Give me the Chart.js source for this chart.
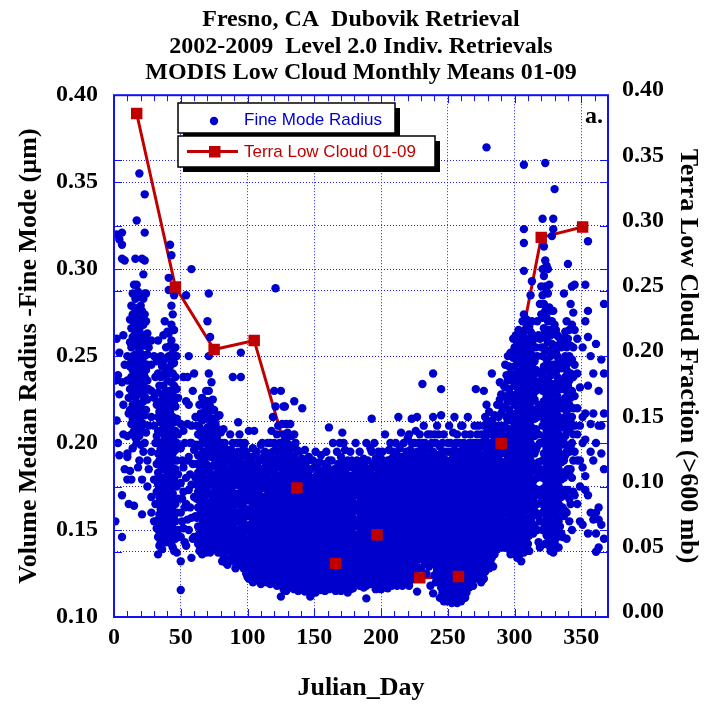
<!DOCTYPE html>
<html><head><meta charset="utf-8">
<script src="https://cdn.jsdelivr.net/npm/chart.js@4.4.1/dist/chart.umd.min.js"></script>
<style>html,body{margin:0;padding:0;background:#fff}</style>
</head><body>
<canvas id="c" width="705" height="708"></canvas>
<script>
// ---- Data ----
// Fine mode radius retrievals: [julianDay, [radii (um) retrieved on that day...]]
const fineJanMar = [
[1,[.236,.155]],[2,[.32,.26,.213]],[3,[.239,.2]],[4,[.317,.252,.228,.193]],
[6,[.321,.314,.306,.235,.17,.146]],[7,[.262,.222,.205]],[8,[.305,.245,.185]],
[10,[.25,.236,.204,.194,.192,.179]],[11,[.226,.217,.165]],
[12,[.271,.258,.244,.231,.219,.184]],
[13,[.279,.266,.255,.247,.238,.227,.211,.205,.179]],
[14,[.286,.274,.261,.25,.242,.233,.222,.214,.197]],
[15,[.291,.278,.269,.257,.245,.236,.229,.218,.207,.164]],
[16,[.306,.283,.271,.263,.251,.24,.226,.215,.203]],
[17,[.328,.291,.276,.267,.256,.248,.235,.223,.21,.2]],
[18,[.287,.272,.259,.244,.232,.219,.208,.186]],
[19,[.355,.284,.265,.254,.243,.237,.228,.214,.204,.19]],
[20,[.279,.27,.258,.248,.236,.222,.212,.199]],
[21,[.306,.276,.262,.251,.24,.229,.217,.207,.179,.159]],
[22,[.297,.283,.268,.256,.246,.233,.224,.211,.195]],
[23,[.343,.321,.305,.286,.274,.26,.25,.238,.227,.216,.2]],
[24,[.286,.27,.257,.242,.231,.219,.206]],
[25,[.263,.251,.245,.236,.225,.19,.175]],
[26,[.255,.231,.21,.185]],
[28,[.259,.245,.23,.215,.195,.169,.16]],
[30,[.25,.226,.21,.179,.155]],
[31,[.238,.2,.165]],
[32,[.247,.222,.204,.188,.172,.151]],
[33,[.259,.24,.229,.215,.207,.194,.183,.176,.165,.156,.146,.136]],
[34,[.233,.218,.2,.19,.181,.169,.159,.149,.141]],
[35,[.25,.238,.224,.212,.197,.187,.179,.17,.162,.152,.143]],
[36,[.244,.228,.216,.206,.193,.185,.174,.164,.155,.146,.139]],
[37,[.262,.247,.233,.22,.21,.201,.19,.18,.171,.161,.15]],
[38,[.27,.24,.226,.213,.204,.195,.185,.176,.166,.157,.147]],
[39,[.255,.243,.23,.218,.207,.197,.188,.178,.168,.159,.151,.143]],
[40,[.264,.249,.236,.222,.21,.2,.191,.183,.173,.163,.154,.145]],
[41,[.295,.288,.263,.25,.24,.226,.215,.203,.193,.181,.17,.16,.148]],
[42,[.314,.256,.244,.23,.218,.208,.197,.188,.177,.167,.157,.146]],
[43,[.308,.279,.268,.259,.247,.235,.222,.211,.199,.186,.174,.163,.153,.142]],
[44,[.274,.252,.24,.228,.215,.205,.194,.183,.171,.161,.151,.14]],
[45,[.285,.265,.246,.233,.224,.212,.201,.19,.179,.168,.158,.148,.138]],
[46,[.255,.238,.221,.207,.196,.185,.176,.165,.155,.145]],
[47,[.25,.231,.214,.2,.19,.175,.16,.137]],
[48,[.226,.205,.182,.168,.15]],
[50,[.211,.197,.177,.16,.146,.132,.1155]],
[51,[.19,.168,.155]],
[52,[.238,.207,.186,.172,.151]],
[53,[.2,.163,.143]],
[54,[.285,.224,.18,.165,.141]],
[55,[.238,.211,.19,.156]],
[56,[.25,.222,.192,.173,.15]],
[57,[.2,.182,.163]],
[58,[.3,.21,.2,.176,.157,.134]],
[59,[.23,.188,.145]],
[60,[.24,.196,.169,.146]],
[61,[.215,.18,.158]],
[62,[.21,.199,.188,.176,.168,.157,.146]],
[63,[.215,.205,.193,.183,.172,.163,.152,.142]],
[64,[.222,.209,.198,.187,.179,.167,.158,.148,.138]],
[65,[.217,.204,.192,.18,.171,.161,.151,.14]],
[66,[.226,.213,.2,.189,.176,.165,.156,.145,.136]],
[67,[.222,.207,.195,.184,.174,.169,.159,.15,.141]],
[68,[.218,.203,.191,.181,.17,.162,.153,.144]],
[69,[.23,.214,.2,.188,.178,.166,.157,.148,.137]],
[70,[.27,.224,.209,.196,.185,.175,.163,.154,.143]],
[71,[.286,.25,.24,.23,.217,.205,.193,.183,.171,.16,.149,.14]],
[72,[.261,.221,.21,.198,.186,.177,.166,.155,.146,.137]],
[73,[.235,.214,.202,.192,.181,.17,.16,.151,.141]],
[74,[.225,.209,.197,.187,.176,.166,.157,.147,.139]],
[75,[.219,.205,.193,.182,.172,.163,.152,.143]],
[76,[.211,.2,.189,.178,.168,.159,.149,.14]],
[77,[.215,.203,.19,.18,.171,.161,.15,.142]],
[78,[.208,.196,.184,.175,.164,.154,.145,.137]],
[79,[.216,.2,.188,.177,.167,.157,.147,.139]],
[80,[.206,.193,.182,.172,.161,.152,.142]],
[81,[.2,.19,.179,.169,.159,.149,.14,.132]],
[82,[.208,.196,.185,.174,.163,.154,.144,.135]],
[83,[.2,.187,.176,.166,.156,.146,.137]],
[84,[.193,.181,.171,.161,.151,.141,.131]],
[85,[.196,.184,.173,.163,.152,.142,.13]],
[86,[.19,.178,.168,.158,.148,.139,.133]],
[87,[.205,.19,.18,.169,.159,.149,.138]],
[88,[.196,.185,.174,.164,.154,.144,.134]],
[89,[.238,.2,.188,.177,.167,.157,.146,.135]],
[90,[.193,.182,.171,.161,.151,.141,.132]],
[91,[.19,.178,.168,.158,.148,.138,.128]]
];
const fineAprJun = [
[92,[.2,.186,.176,.165,.155,.145,.135]],
[93,[.212,.195,.183,.171,.16,.15,.14,.13]],
[94,[.205,.19,.179,.169,.157,.147,.137]],
[95,[.252,.238,.2,.186,.175,.164,.154,.143,.133]],
[96,[.193,.181,.171,.161,.151,.141,.131]],
[97,[.198,.185,.174,.166,.156,.146,.136,.128]],
[98,[.2,.188,.178,.168,.158,.149,.139,.13]],
[99,[.195,.183,.172,.162,.152,.143,.134,.125]],
[100,[.19,.18,.17,.16,.15,.141,.132,.123]],
[101,[.207,.186,.176,.167,.158,.149,.14,.131,.122]],
[102,[.192,.181,.171,.162,.153,.145,.136,.127]],
[103,[.19,.178,.169,.159,.15,.141,.133,.124]],
[104,[.197,.184,.174,.164,.155,.146,.137,.128,.12]],
[105,[.207,.188,.179,.17,.161,.152,.143,.134,.125]],
[106,[.193,.182,.172,.163,.153,.144,.135,.126]],
[107,[.195,.18,.167,.158,.148,.139,.13,.121]],
[108,[.186,.176,.165,.156,.147,.138,.129]],
[109,[.19,.179,.17,.16,.151,.142,.133,.124]],
[110,[.199,.185,.174,.164,.155,.146,.137,.127,.119]],
[111,[.2,.182,.168,.159,.15,.141,.132,.123]],
[112,[.192,.178,.169,.157,.148,.139,.13,.121]],
[113,[.195,.186,.174,.163,.154,.145,.136,.126]],
[114,[.188,.176,.166,.156,.147,.138,.129,.12]],
[115,[.2,.19,.18,.17,.16,.151,.142,.133,.124]],
[116,[.194,.183,.172,.162,.152,.143,.134,.125]],
[117,[.2,.186,.175,.165,.156,.147,.138,.128,.119]],
[118,[.207,.191,.179,.169,.159,.149,.14,.131,.122]],
[119,[.215,.195,.184,.173,.163,.153,.144,.135,.126]],
[120,[.23,.2,.188,.177,.167,.157,.148,.139,.129,.12]],
[121,[.289,.221,.196,.182,.171,.161,.152,.143,.134,.124]],
[122,[.205,.191,.179,.168,.158,.148,.138,.128,.118]],
[123,[.21,.195,.186,.175,.165,.155,.146,.136,.126]],
[124,[.2,.189,.178,.169,.159,.15,.141,.131,.121]],
[125,[.23,.2,.19,.181,.171,.162,.153,.144,.135,.125,.1117]],
[126,[.211,.196,.185,.175,.166,.157,.147,.138,.129,.12]],
[127,[.221,.205,.193,.183,.173,.164,.154,.145,.136,.127,.116]],
[128,[.221,.199,.188,.178,.168,.159,.15,.141,.132,.122]],
[129,[.211,.202,.191,.18,.17,.161,.152,.143,.133,.124,.115]],
[130,[.206,.195,.184,.174,.165,.155,.146,.137,.128,.118]],
[131,[.199,.187,.177,.168,.158,.149,.14,.131,.121]],
[132,[.211,.193,.182,.172,.163,.154,.144,.135,.126,.117]],
[133,[.204,.19,.179,.169,.16,.151,.142,.133,.123]],
[134,[.197,.185,.175,.165,.156,.147,.138,.128,.119]],
[135,[.224,.205,.192,.181,.171,.162,.152,.143,.134,.125,.116]],
[136,[.2,.188,.178,.168,.159,.149,.14,.131,.121]],
[137,[.196,.183,.173,.164,.154,.145,.136,.127,.118]],
[138,[.19,.18,.17,.161,.152,.143,.133,.124,.115]],
[139,[.195,.186,.176,.166,.157,.147,.138,.129,.12]],
[140,[.188,.178,.169,.159,.15,.141,.131,.122,.116]],
[141,[.22,.191,.181,.172,.162,.153,.144,.134,.125]],
[142,[.184,.175,.166,.156,.147,.138,.129,.12]],
[143,[.196,.186,.177,.168,.159,.15,.141,.132,.123,.1146]],
[144,[.189,.18,.17,.161,.152,.143,.134,.125,.117]],
[145,[.183,.173,.164,.155,.146,.136,.127,.118]],
[146,[.192,.181,.171,.162,.153,.144,.135,.126,.117]],
[147,[.185,.176,.166,.157,.148,.139,.13,.121,.1117]],
[148,[.179,.169,.16,.151,.142,.133,.124,.115]],
[149,[.19,.18,.171,.162,.152,.143,.134,.125,.116]],
[150,[.186,.175,.165,.156,.147,.137,.128,.119]],
[151,[.195,.178,.168,.159,.15,.141,.132,.122,.114]],
[152,[.182,.173,.163,.154,.145,.136,.127,.118]],
[153,[.185,.176,.167,.158,.148,.139,.13,.121]],
[154,[.189,.179,.17,.16,.151,.142,.133,.124,.116]],
[155,[.193,.174,.165,.156,.146,.137,.128,.119,.1155]],
[156,[.18,.171,.162,.152,.143,.134,.125,.117]],
[157,[.184,.176,.166,.157,.148,.139,.13,.121]],
[158,[.188,.178,.169,.16,.15,.141,.132,.123,.115]],
[159,[.195,.182,.173,.164,.154,.145,.136,.127,.118]],
[160,[.186,.176,.167,.157,.148,.139,.13,.121]],
[161,[.209,.19,.179,.17,.161,.152,.143,.134,.125,.116]],
[162,[.184,.174,.165,.155,.146,.137,.128,.119]],
[163,[.19,.178,.168,.159,.149,.14,.131,.122]],
[164,[.2,.182,.172,.163,.153,.144,.135,.126,.117]],
[165,[.185,.175,.166,.157,.147,.138,.129,.12]],
[166,[.179,.17,.16,.151,.142,.133,.124,.115]],
[167,[.195,.183,.173,.164,.155,.146,.136,.127,.118]],
[168,[.188,.177,.167,.158,.149,.14,.131,.122]],
[169,[.2,.186,.171,.161,.152,.143,.134,.125,.116]],
[170,[.192,.18,.169,.159,.15,.141,.132,.123,.115]],
[171,[.206,.19,.176,.166,.157,.148,.139,.13,.121]],
[172,[.2,.184,.173,.163,.154,.145,.136,.127,.118]],
[173,[.196,.187,.178,.168,.158,.149,.14,.131,.122]],
[174,[.182,.172,.162,.153,.144,.135,.126,.117]],
[175,[.19,.177,.167,.158,.149,.14,.131,.122,.114]],
[176,[.186,.175,.165,.156,.147,.137,.128,.119]],
[177,[.195,.181,.171,.162,.153,.143,.134,.125,.116]],
[178,[.19,.179,.169,.16,.151,.142,.133,.124]],
[179,[.186,.176,.166,.157,.148,.138,.129,.12,.1165]],
[180,[.182,.173,.164,.154,.145,.136,.127,.118]],
[181,[.2,.185,.175,.165,.156,.147,.138,.129,.12]]
];
const fineJulSep = [
[182,[.19,.179,.17,.161,.152,.142,.133,.124]],
[183,[.186,.175,.165,.156,.147,.138,.129,.12]],
[184,[.195,.182,.172,.163,.154,.145,.136,.127,.118]],
[185,[.188,.178,.168,.159,.15,.141,.132,.123]],
[186,[.184,.174,.165,.155,.146,.137,.128,.119]],
[187,[.191,.18,.171,.162,.153,.144,.135,.126,.117]],
[188,[.186,.176,.167,.158,.148,.139,.13,.121]],
[189,[.2,.182,.172,.163,.154,.145,.136,.127,.118,.1107]],
[190,[.19,.178,.168,.159,.15,.141,.132,.123]],
[191,[.185,.174,.165,.156,.147,.138,.129,.12]],
[192,[.197,.183,.173,.164,.155,.146,.137,.128,.119]],
[193,[.214,.195,.18,.17,.16,.151,.142,.133,.124]],
[194,[.188,.177,.167,.158,.149,.14,.131,.122]],
[195,[.2,.186,.175,.166,.156,.147,.138,.129,.119]],
[196,[.191,.181,.171,.162,.153,.144,.134,.125,.116]],
[197,[.187,.177,.168,.159,.15,.141,.132,.123]],
[198,[.195,.183,.173,.164,.155,.145,.136,.127,.118]],
[199,[.185,.175,.166,.157,.148,.139,.13,.121]],
[200,[.191,.18,.17,.161,.152,.143,.134,.125,.116]],
[201,[.195,.184,.174,.165,.156,.147,.138,.129,.12]],
[202,[.188,.178,.169,.16,.151,.142,.133,.124]],
[203,[.205,.189,.18,.171,.162,.153,.144,.135,.126,.117]],
[204,[.186,.176,.166,.157,.148,.139,.13,.121]],
[205,[.19,.181,.172,.163,.154,.145,.136,.127,.1165]],
[206,[.196,.185,.175,.166,.157,.148,.139,.13,.121]],
[207,[.2,.188,.178,.169,.16,.151,.142,.133,.124]],
[208,[.191,.181,.172,.162,.153,.144,.135,.126,.118]],
[209,[.195,.184,.174,.165,.156,.147,.138,.129,.121]],
[210,[.188,.179,.17,.16,.151,.142,.133,.124]],
[211,[.2,.186,.176,.167,.158,.149,.14,.131,.122]],
[212,[.193,.182,.172,.163,.154,.145,.136,.127,.118]],
[213,[.215,.19,.179,.169,.16,.151,.142,.133,.124]],
[214,[.197,.185,.175,.166,.157,.148,.139,.13,.121]],
[215,[.206,.188,.178,.168,.159,.15,.141,.132,.123]],
[216,[.192,.182,.172,.163,.154,.145,.136,.127,.118]],
[217,[.2,.186,.176,.166,.157,.148,.139,.13,.121]],
[218,[.19,.179,.17,.161,.152,.143,.134,.125]],
[219,[.195,.184,.174,.165,.156,.147,.138,.129,.12]],
[220,[.203,.188,.178,.169,.16,.151,.142,.133,.124]],
[221,[.205,.192,.181,.172,.163,.154,.145,.136,.127,.118]],
[222,[.196,.185,.175,.166,.157,.148,.139,.13,.121]],
[223,[.214,.2,.188,.178,.169,.16,.151,.142,.133,.124]],
[224,[.193,.182,.173,.164,.155,.146,.137,.128]],
[225,[.2,.186,.176,.167,.158,.149,.14,.131,.122]],
[226,[.207,.19,.18,.171,.162,.153,.144,.135,.126]],
[227,[.215,.195,.184,.174,.165,.156,.147,.138,.129,.1146]],
[228,[.2,.188,.178,.169,.16,.151,.142,.133,.122]],
[229,[.205,.192,.182,.172,.163,.154,.145,.136]],
[230,[.196,.185,.175,.166,.157,.148,.139,.128]],
[231,[.234,.2,.189,.179,.17,.161,.152,.143,.133]],
[232,[.21,.193,.183,.173,.164,.155,.146,.137]],
[233,[.2,.187,.177,.168,.159,.15,.141,.131]],
[234,[.196,.186,.176,.166,.157,.148,.139,.125]],
[235,[.205,.19,.18,.17,.161,.152,.143,.134]],
[236,[.198,.185,.175,.165,.156,.147,.138,.129]],
[237,[.205,.192,.181,.172,.163,.154,.145,.136,.118]],
[238,[.2,.188,.178,.168,.159,.15,.141,.132]],
[239,[.24,.215,.195,.184,.174,.165,.156,.147,.138,.1136]],
[240,[.205,.19,.18,.171,.161,.152,.143,.134,.124]],
[241,[.2,.186,.176,.167,.158,.149,.14,.13,.12]],
[242,[.21,.193,.182,.172,.163,.154,.145,.136,.127]],
[243,[.205,.189,.179,.169,.16,.151,.142,.133,.122]],
[244,[.198,.185,.175,.165,.156,.147,.138,.129,.12,.111]],
[245,[.231,.216,.194,.181,.171,.162,.153,.144,.135,.126,.117]],
[246,[.2,.188,.178,.168,.159,.15,.141,.132,.123,.114]],
[247,[.205,.191,.181,.172,.162,.153,.144,.135,.126,.117,.109]],
[248,[.195,.185,.175,.165,.156,.147,.138,.129,.12,.112]],
[249,[.19,.181,.171,.162,.153,.144,.134,.125,.116,.109]],
[250,[.2,.188,.177,.168,.159,.149,.14,.131,.122,.113]],
[251,[.21,.195,.183,.173,.164,.155,.146,.137,.128,.119,.11]],
[252,[.2,.186,.176,.167,.158,.149,.14,.13,.121,.112]],
[253,[.19,.18,.17,.161,.152,.143,.134,.125,.116,.108]],
[254,[.206,.192,.182,.172,.163,.154,.145,.136,.127,.118]],
[255,[.215,.196,.185,.175,.166,.157,.148,.139,.13,.121,.112]],
[256,[.2,.187,.177,.168,.159,.15,.141,.132,.123,.114]],
[257,[.205,.19,.181,.171,.162,.153,.144,.135,.126,.117,.108]],
[258,[.195,.184,.174,.165,.156,.146,.137,.128,.119,.11]],
[259,[.2,.188,.178,.169,.16,.151,.142,.133,.124,.115]],
[260,[.21,.193,.182,.172,.163,.154,.145,.136,.127,.118,.109]],
[261,[.21,.196,.186,.176,.167,.158,.149,.14,.131,.122,.113]],
[262,[.2,.19,.18,.17,.161,.152,.143,.134,.125,.116]],
[263,[.205,.193,.183,.174,.165,.156,.147,.138,.129,.12,.111]],
[264,[.198,.187,.177,.168,.159,.15,.141,.132,.123,.114]],
[265,[.215,.195,.184,.174,.165,.156,.147,.138,.129,.12]],
[266,[.2,.19,.18,.171,.162,.153,.144,.135,.126,.117]],
[267,[.205,.193,.183,.174,.165,.156,.147,.138,.128,.119]],
[268,[.198,.188,.178,.169,.16,.151,.142,.133,.124]],
[269,[.2,.19,.181,.172,.163,.154,.145,.136,.127,.118]],
[270,[.21,.195,.185,.176,.167,.158,.149,.14,.131,.122]],
[271,[.231,.2,.189,.179,.17,.161,.152,.143,.134,.125]],
[272,[.205,.192,.182,.173,.164,.155,.146,.137,.128]],
[273,[.21,.196,.186,.176,.167,.158,.149,.14,.131,.122]],
[274,[.2,.19,.18,.171,.162,.153,.144,.135,.126]],
[275,[.205,.193,.183,.174,.165,.156,.147,.138,.129,.12]],
[276,[.2,.188,.178,.169,.16,.151,.142,.133,.124]]
];
const fineOctDec = [
[277,[.23,.21,.198,.187,.177,.168,.158,.149,.14,.131,.122]],
[278,[.215,.203,.192,.182,.172,.162,.153,.144,.135,.126]],
[279,[.37,.222,.206,.195,.185,.175,.166,.156,.147,.138,.129]],
[280,[.212,.2,.189,.179,.17,.16,.151,.142,.133]],
[281,[.218,.205,.194,.184,.174,.165,.155,.146,.137,.128]],
[282,[.209,.197,.187,.177,.168,.158,.149,.14,.131]],
[283,[.24,.213,.2,.19,.18,.171,.162,.152,.143,.134]],
[284,[.207,.195,.185,.175,.166,.157,.147,.138,.129]],
[285,[.216,.203,.192,.182,.172,.163,.154,.145,.136]],
[286,[.21,.198,.188,.178,.169,.16,.15,.141]],
[287,[.222,.206,.195,.185,.175,.166,.157,.148,.139]],
[288,[.215,.202,.191,.181,.171,.162,.153,.144]],
[289,[.235,.225,.21,.198,.187,.177,.168,.159,.15,.141]],
[290,[.228,.217,.205,.194,.184,.174,.165,.156,.147]],
[291,[.22,.208,.197,.187,.177,.168,.159,.15,.14]],
[292,[.233,.221,.21,.199,.189,.18,.171,.162,.152,.143]],
[293,[.245,.232,.22,.209,.198,.188,.178,.169,.16,.15,.14]],
[294,[.239,.227,.215,.204,.194,.184,.174,.165,.155,.146]],
[295,[.25,.236,.224,.213,.202,.192,.182,.172,.163,.153,.143]],
[296,[.244,.231,.219,.208,.198,.188,.178,.168,.158,.149,.139]],
[297,[.252,.24,.228,.216,.205,.194,.184,.175,.165,.155,.146,.136]],
[298,[.252,.236,.224,.213,.202,.192,.182,.171,.161,.151,.142]],
[299,[.26,.249,.238,.227,.216,.206,.196,.186,.176,.166,.156,.146,.137]],
[300,[.255,.244,.233,.222,.211,.201,.191,.181,.171,.161,.151,.141]],
[301,[.262,.25,.239,.228,.217,.207,.197,.187,.177,.167,.157,.147,.138]],
[302,[.257,.246,.235,.224,.213,.203,.193,.183,.173,.163,.153,.143,.134]],
[303,[.265,.253,.241,.23,.219,.209,.199,.189,.179,.169,.159,.149,.14]],
[304,[.258,.247,.236,.225,.215,.205,.195,.185,.175,.165,.155,.145,.136]],
[305,[.262,.25,.239,.228,.218,.208,.198,.188,.178,.168,.158,.148,.132]],
[306,[.27,.256,.244,.233,.222,.212,.202,.192,.182,.172,.162,.152,.142]],
[307,[.36,.323,.315,.299,.274,.261,.249,.238,.227,.217,.207,.197,.187,.177,.167,.157,.147,.137]],
[308,[.265,.253,.242,.231,.221,.211,.201,.191,.181,.171,.161,.151,.141]],
[309,[.271,.258,.246,.235,.224,.214,.204,.194,.184,.174,.164,.154,.145]],
[310,[.268,.255,.243,.232,.222,.212,.202,.192,.182,.172,.162,.152,.142]],
[311,[.267,.26,.249,.238,.227,.217,.207,.197,.187,.177,.167,.157,.147,.138]],
[312,[.285,.264,.252,.241,.23,.22,.21,.2,.19,.18,.17,.16,.15]],
[313,[.293,.27,.257,.245,.234,.224,.214,.204,.194,.184,.174,.164,.154]],
[314,[.262,.25,.239,.228,.218,.208,.198,.188,.178,.168,.158,.148]],
[315,[.26,.247,.236,.225,.214,.204,.194,.184,.174,.164,.152]],
[316,[.255,.242,.23,.219,.208,.196,.185,.172,.16]],
[317,[.27,.25,.233,.215,.198,.18,.165,.15]],
[318,[.262,.241,.222,.205,.189,.173,.158,.143]],
[319,[.28,.26,.24,.22,.2,.185,.17,.155,.14]],
[320,[.29,.274,.255,.236,.217,.2,.183,.166]],
[321,[.329,.3,.285,.272,.261,.25,.24,.23,.22,.21,.2,.19,.18,.17,.16,.15]],
[322,[.313,.296,.28,.266,.255,.244,.234,.224,.214,.204,.194,.184,.174,.164,.154]],
[323,[.361,.305,.29,.276,.264,.253,.242,.232,.222,.212,.202,.192,.182,.172,.162,.152,.142]],
[324,[.302,.287,.272,.26,.248,.237,.227,.217,.207,.197,.187,.177,.167,.157,.147]],
[325,[.3,.286,.27,.258,.246,.236,.226,.216,.206,.196,.186,.176,.166,.156,.146]],
[326,[.291,.278,.265,.253,.242,.231,.221,.211,.201,.191,.181,.171,.161,.151,.141]],
[327,[.276,.262,.25,.239,.228,.218,.208,.198,.188,.178,.168,.158,.148,.138]],
[328,[.319,.27,.257,.245,.234,.224,.214,.204,.194,.184,.174,.164,.154,.144]],
[329,[.329,.323,.276,.263,.251,.24,.229,.219,.209,.199,.189,.179,.169,.159,.149,.137]],
[330,[.346,.268,.256,.245,.234,.223,.213,.203,.193,.183,.173,.163,.153,.143]],
[331,[.265,.252,.241,.23,.22,.21,.2,.19,.18,.17,.16,.15,.14]],
[332,[.262,.25,.238,.227,.216,.206,.196,.186,.176,.166,.156,.146]],
[333,[.261,.248,.236,.225,.215,.205,.195,.185,.175,.165,.155,.14]],
[334,[.257,.245,.233,.222,.211,.201,.191,.181,.171,.161,.152]],
[335,[.255,.243,.231,.22,.209,.199,.189,.179,.169,.159,.148]],
[336,[.26,.247,.235,.224,.213,.203,.193,.183,.173,.163,.146]],
[337,[.286,.258,.245,.233,.222,.211,.2,.19,.18,.17,.158]],
[338,[.264,.25,.238,.226,.215,.204,.193,.183,.173,.161]],
[339,[.27,.255,.242,.23,.218,.206,.195,.184,.172,.16,.145]],
[340,[.303,.26,.246,.233,.221,.209,.197,.185,.173]],
[341,[.265,.25,.236,.222,.208,.195,.182,.168,.155]],
[342,[.28,.256,.24,.226,.212,.198,.185,.165]],
[343,[.29,.268,.248,.23,.215,.2,.18,.15]],
[344,[.275,.255,.238,.22,.205,.19,.172]],
[345,[.291,.265,.245,.227,.21,.195,.17]],
[347,[.26,.24,.22,.205,.19,.165]],
[349,[.232,.21,.19,.175,.155]],
[351,[.255,.215,.2,.186,.153]],
[353,[.291,.27,.217,.202,.181,.173]],
[355,[.316,.276,.261,.233,.17,.148]],
[357,[.25,.211,.195,.16]],
[359,[.24,.217,.19,.156]],
[361,[.257,.2,.16,.148,.1375]],
[363,[.23,.21,.163,.156,.14]],
[365,[.248,.21,.194,.153]],
[367,[.28,.24,.217,.185,.145]]
];
// Terra low cloud fraction, monthly means 01-09
const cloudDay = [17, 46, 75, 105, 137, 166, 197, 229, 258, 290, 320, 351];
const cloudFraction = [.386, .253, .205, .212, .099, .041, .063, .030, .031, .133, .291, .299];
// Axis tick values
const dayTicks = [0, 50, 100, 150, 200, 250, 300, 350];

// ---- build datasets ----
const finePoints = [];
[fineJanMar, fineAprJun, fineJulSep, fineOctDec].forEach(group =>
  group.forEach(([d, radii]) => radii.forEach(r => finePoints.push({x: d, y: r}))));
const cloudPoints = cloudDay.map((d, i) => ({x: d, y: cloudFraction[i]}));

const SERIF = "'Times New Roman', 'Liberation Serif', serif";
const SANS = "Helvetica, Arial, 'Liberation Sans', sans-serif";
const BLUE = '#0000cc';
const RED = '#c00000';
const FRAME = '#1010ff';
const GRID = 'rgba(20,20,255,0.95)';

const framePlugin = {
  id: 'frameAndLegend',
  afterDatasetsDraw(chart) {
    const {ctx, chartArea: a, scales} = chart;
    ctx.save();
    ctx.strokeStyle = FRAME; ctx.lineWidth = 1;
    ctx.beginPath();
    for (let v = 0; v <= scales.x.max; v += 10) {
      const x = Math.round(scales.x.getPixelForValue(v)) + 0.5;
      const len = v % 50 === 0 ? 8 : 6;
      ctx.moveTo(x, a.bottom); ctx.lineTo(x, a.bottom - len);
      ctx.moveTo(x, a.top); ctx.lineTo(x, a.top + len);
    }
    [scales.yL, scales.yR].forEach(s => s.ticks.forEach(t => {
      const y = Math.round(s.getPixelForValue(t.value)) + 0.5;
      ctx.moveTo(a.left, y); ctx.lineTo(a.left + 8, y);
      ctx.moveTo(a.right, y); ctx.lineTo(a.right - 8, y);
    }));
    ctx.stroke();
    ctx.lineWidth = 2;
    ctx.strokeRect(a.left, a.top, a.right - a.left, a.bottom - a.top);

    const box = (x, y, w, h) => {
      ctx.fillStyle = '#000'; ctx.fillRect(x + 5, y + 5, w, h);
      ctx.fillStyle = '#fff'; ctx.fillRect(x, y, w, h);
      ctx.strokeStyle = '#000'; ctx.lineWidth = 1.5; ctx.strokeRect(x, y, w, h);
    };
    box(178, 103, 217, 30);
    box(178, 136, 257, 31);
    ctx.fillStyle = BLUE;
    ctx.beginPath(); ctx.arc(214, 121, 4.2, 0, Math.PI * 2); ctx.fill();
    ctx.strokeStyle = RED; ctx.lineWidth = 3;
    ctx.beginPath(); ctx.moveTo(187, 151.5); ctx.lineTo(238, 151.5); ctx.stroke();
    ctx.fillStyle = RED; ctx.fillRect(209, 146, 11.5, 11.5);
    ctx.font = '17px ' + SANS; ctx.textBaseline = 'alphabetic'; ctx.textAlign = 'left';
    ctx.fillStyle = BLUE; ctx.fillText('Fine Mode Radius', 244, 125);
    ctx.fillStyle = RED; ctx.fillText('Terra Low Cloud 01-09', 244, 157);
    ctx.fillStyle = '#000'; ctx.font = 'bold 24px ' + SERIF;
    ctx.fillText('a.', 585, 123);
    ctx.restore();
  }
};

const tickFont = {family: SERIF, size: 24, weight: 'bold'};
const titleFont = {family: SERIF, size: 26, weight: 'bold'};

new Chart(document.getElementById('c'), {
  data: {
    datasets: [
      {type: 'scatter', label: 'Terra Low Cloud 01-09 markers', data: cloudPoints, yAxisID: 'yR',
       pointStyle: 'rect', pointRadius: 8.1, backgroundColor: RED, borderWidth: 0, showLine: false},
      {type: 'scatter', label: 'Fine Mode Radius', data: finePoints, yAxisID: 'yL',
       pointRadius: 4.2, backgroundColor: BLUE, borderWidth: 0},
      {type: 'line', label: 'Terra Low Cloud 01-09', data: cloudPoints, yAxisID: 'yR',
       borderColor: RED, borderWidth: 3, pointRadius: 0, tension: 0, fill: false}
    ]
  },
  options: {
    responsive: false, animation: false, devicePixelRatio: 1,
    layout: {padding: {left: 0, right: 0, top: 0, bottom: 0}},
    plugins: {
      legend: {display: false}, tooltip: {enabled: false},
      title: {
        display: true, fullSize: false, color: '#000',
        text: ['Fresno, CA  Dubovik Retrieval', '2002-2009  Level 2.0 Indiv. Retrievals', 'MODIS Low Cloud Monthly Means 01-09'],
        font: {family: SERIF, size: 24, weight: 'bold', lineHeight: 1.1},
        padding: {top: 7, bottom: 9}
      }
    },
    scales: {
      x: {
        type: 'linear', position: 'bottom', min: 0, max: 370,
        afterBuildTicks: s => { s.ticks = dayTicks.map(v => ({value: v})); },
        afterFit: s => { s.height = 91; },
        ticks: {color: '#000', font: tickFont, padding: 6, maxRotation: 0, autoSkip: false},
        grid: {color: GRID, lineWidth: 1, drawTicks: false, tickLength: 0},
        border: {display: false, dash: [1, 2]},
        title: {display: true, text: 'Julian_Day', color: '#000', font: titleFont, padding: {top: 4, bottom: 4}}
      },
      yL: {
        type: 'linear', position: 'left', min: 0.1, max: 0.4,
        ticks: {stepSize: 0.05, color: '#000', font: tickFont, padding: 16, callback: v => v.toFixed(2)},
        afterFit: s => { s.width = 114; },
        grid: {color: GRID, lineWidth: 1, drawTicks: false, tickLength: 0},
        border: {display: false, dash: [1, 2]},
        title: {display: true, text: 'Volume Median Radius -Fine Mode (\u00b5m)', color: '#000', font: titleFont, padding: {top: 14, bottom: 0}}
      },
      yR: {
        type: 'linear', position: 'right', min: 0, max: 0.4,
        ticks: {stepSize: 0.05, color: '#000', font: tickFont, padding: 14, labelOffset: -5, callback: v => v.toFixed(2)},
        afterFit: s => { s.width = 97; },
        grid: {color: GRID, lineWidth: 1, drawTicks: false, tickLength: 0, drawOnChartArea: true},
        border: {display: false, dash: [1, 2]},
        title: {display: true, text: 'Terra Low Cloud Fraction (>600 mb)', color: '#000', font: titleFont, padding: {top: 2, bottom: 0}}
      }
    }
  },
  plugins: [framePlugin]
});
</script>
</body></html>
